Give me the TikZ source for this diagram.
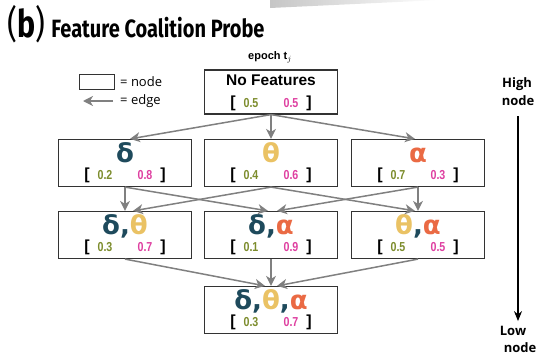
\documentclass[tikz,border=0pt]{standalone}
\usepackage{fontspec}
\usetikzlibrary{arrows.meta}
\setmainfont{Liberation Sans}
\newfontfamily\titlefont[FakeStretch=0.8]{Fira Sans}
\newfontfamily\greekfont{DejaVu Sans}
\newfontfamily\numfont[FakeStretch=0.82]{Liberation Sans}
\newfontfamily\sidefont{Open Sans}

\definecolor{deltacol}{HTML}{1E4A5C}
\definecolor{thetacol}{HTML}{EAC264}
\definecolor{alphacol}{HTML}{EA6A44}
\definecolor{olivecol}{HTML}{7C8C2C}
\definecolor{pinkcol}{HTML}{DE3FA0}
\definecolor{edgecol}{HTML}{808080}
\definecolor{boxcol}{HTML}{333333}

\newcommand{\dl}{\textcolor{deltacol}{δ}}
\newcommand{\tht}{\textcolor{thetacol}{θ}}
\newcommand{\al}{\textcolor{alphacol}{α}}
\newcommand{\cm}{\textcolor{deltacol}{,}}

% box with a greek label and its two weights
\newcommand{\coalbox}[6]{%
  \node[fbox] (#1) at (#2,#3) {};
  \node[greek] at (#2,#3-1) {#4};
  \node[brk] at (#2-38,#3+16) {[};
  \node[num, text=olivecol] at (#2-20,#3+16) {#5};
  \node[num, text=pinkcol] at (#2+20,#3+16) {#6};
  \node[brk] at (#2+38,#3+16) {]};
}

\begin{document}
\begin{tikzpicture}[x=1pt, y=-1pt,
    fbox/.style={draw=boxcol, line width=1.2pt, minimum width=133pt, minimum height=47pt, inner sep=0pt},
    greek/.style={anchor=base, inner sep=0pt, font=\greekfont\bfseries\fontsize{26}{26}\selectfont},
    num/.style={anchor=base, inner sep=0pt, font=\numfont\bfseries\fontsize{13}{13}\selectfont},
    brk/.style={anchor=base, inner sep=0pt, font=\bfseries\fontsize{16}{16}\selectfont},
    edge/.style={draw=edgecol, line width=1.5pt, -{Stealth[length=10pt, width=10pt, inset=3pt]}},
    side/.style={inner sep=0pt, font=\sidefont\bfseries\fontsize{13}{13}\selectfont}]
        \useasboundingbox (0,0) rectangle (539,359);
        \shade[left color=gray!45, right color=white] (270,0) -- (440,0) -- (270,8) -- cycle;

        \node[anchor=base west, inner sep=0pt] (title) at (7,37) {\titlefont\fontsize{38}{38}\selectfont (\textbf{b})\,\fontsize{25}{25}\selectfont\textbf{Feature Coalition Probe}};

        % legend
        \node[draw=boxcol, line width=1.1pt, minimum width=35pt, minimum height=15pt, inner sep=0pt] (legbox) at (97,82) {};
        \node[anchor=west, inner sep=0pt, font=\sidefont\fontsize{13}{13}\selectfont] (legnode) at (120,82) {= node};
        \coordinate (legtail) at (113,101);
        \coordinate (leghead) at (83,101);
        \draw[edge] (legtail) -- (leghead);
        \node[anchor=west, inner sep=0pt, font=\sidefont\fontsize{13}{13}\selectfont] (legedge) at (120,101) {= edge};

        \node[inner sep=0pt, font=\bfseries\fontsize{11}{11}\selectfont] (epoch) at (270,57) {epoch t$_j$};

        \node[fbox, minimum height=44pt] (none) at (271,92) {};
        \node[anchor=base, inner sep=0pt, font=\bfseries\fontsize{15.5}{16}\selectfont] at (271,85) {No Features};
        \node[brk] at (233,107) {[};
        \node[num, text=olivecol] at (251,107) {0.5};
        \node[num, text=pinkcol] at (291,107) {0.5};
        \node[brk] at (309,107) {]};

        \coalbox{d}{125}{163}{\dl}{0.2}{0.8}
        \coalbox{t}{271}{163}{\tht}{0.4}{0.6}
        \coalbox{a}{418}{163}{\al}{0.7}{0.3}

        \coalbox{dt}{125}{235}{\dl\cm\tht}{0.3}{0.7}
        \coalbox{da}{271}{235}{\dl\cm\al}{0.1}{0.9}
        \coalbox{ta}{418}{235}{\tht\cm\al}{0.5}{0.5}

        \coalbox{dta}{271}{310}{\dl\cm\tht\cm\al}{0.3}{0.7}

        \draw[edge] (none.south) -- ([xshift=5pt]d.north);
        \draw[edge] (none.south) -- (t.north);
        \draw[edge] (none.south) -- ([xshift=-3pt]a.north);

        \draw[edge] (d.south) -- (dt.north);
        \draw[edge] (d.south) -- ([xshift=-3pt]da.north);
        \draw[edge] (t.south) -- ([xshift=8pt]dt.north);
        \draw[edge] (t.south) -- ([xshift=-3pt]ta.north);
        \draw[edge] (a.south) -- ([xshift=6pt]da.north);
        \draw[edge] (a.south) -- (ta.north);

        \draw[edge] (dt.south) -- ([xshift=-6pt]dta.north);
        \draw[edge] (da.south) -- (dta.north);
        \draw[edge] (ta.south) -- ([xshift=6pt]dta.north);

        % high to low scale
        \node[side] (high) at (517,84) {High};
        \node[side] (highb) at (518,101) {node};
        \node[side] (low) at (513,331) {Low};
        \node[side] (lowb) at (520,348) {node};
        \draw[line width=1.2pt, -{Stealth[length=10pt, width=8pt]}] ([yshift=-10pt]highb.south) -- ([yshift=5pt]low.north -| highb.south);
\end{tikzpicture}
\end{document}
